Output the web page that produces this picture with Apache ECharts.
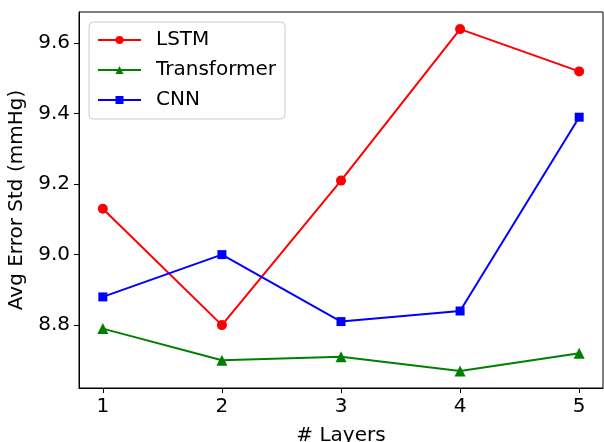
<!DOCTYPE html>
<html>
<head>
<meta charset="utf-8">
<script src="https://cdn.jsdelivr.net/npm/echarts@6/dist/echarts.min.js"></script>
<style>
  html, body { margin: 0; padding: 0; background: #fff; }
  #chart { width: 604px; height: 442px; }
</style>
</head>
<body>
<div id="chart"></div>
<script>
// Number of layers on the x axis
const layers = [1, 2, 3, 4, 5];
// Average error standard deviation (mmHg) per model
const lstm = [9.13, 8.80, 9.21, 9.64, 9.52];
const transformer = [8.79, 8.70, 8.71, 8.67, 8.72];
const cnn = [8.88, 9.00, 8.81, 8.84, 9.39];
// Tick values shown on the y axis
const yTicks = [8.8, 9.0, 9.2, 9.4, 9.6];

const FONT = 'DejaVu Sans';
const FS = 20;

function pairs(ys) {
  return layers.map((x, i) => [x, ys[i]]);
}

const all = lstm.concat(transformer, cnn);
const yLo = Math.min(...all), yHi = Math.max(...all);
const yPad = (yHi - yLo) * 0.05;
const xPad = (layers[layers.length - 1] - layers[0]) * 0.05;

const chart = echarts.init(document.getElementById('chart'), null, { renderer: 'canvas' });

const lineSeries = (name, data, color, symbol, size) => ({
  name: name,
  type: 'line',
  data: pairs(data),
  symbol: symbol,
  symbolSize: size,
  showAllSymbol: true,
  lineStyle: { color: color, width: 2 },
  itemStyle: { color: color },
  emphasis: { disabled: true },
  animation: false
});

chart.setOption({
  animation: false,
  grid: {
    left: 79, right: 1, top: 12, bottom: 54,
    containLabel: false,
    outerBoundsMode: 'none',
    show: true, borderColor: '#000', borderWidth: 1, backgroundColor: '#fff'
  },
  legend: {
    orient: 'vertical',
    left: 89, top: 22,
    padding: [8, 9, 9, 8],
    itemWidth: 43,
    itemHeight: 10,
    itemGap: 10,
    backgroundColor: 'rgba(255,255,255,0.8)',
    borderColor: '#cccccc',
    borderWidth: 1,
    borderRadius: 4,
    textStyle: { fontFamily: FONT, fontSize: FS, color: '#000', padding: [0, 0, 0, 10] },
    data: ['LSTM', 'Transformer', 'CNN']
  },
  xAxis: {
    type: 'value',
    min: layers[0] - xPad,
    max: layers[layers.length - 1] + xPad,
    name: '# Layers',
    nameLocation: 'middle',
    nameGap: 38,
    nameTextStyle: { fontFamily: FONT, fontSize: FS, color: '#000' },
    axisLine: { show: true, lineStyle: { color: '#000', width: 1 } },
    axisTick: { show: true, inside: false, length: 5, customValues: layers, lineStyle: { color: '#000' } },
    axisLabel: {
      customValues: layers, margin: 9,
      fontFamily: FONT, fontSize: FS, color: '#000',
      formatter: v => String(v)
    },
    splitLine: { show: false }
  },
  yAxis: {
    type: 'value',
    min: yLo - yPad,
    max: yHi + yPad,
    name: 'Avg Error Std (mmHg)',
    nameLocation: 'middle',
    nameGap: 47,
    nameRotate: 90,
    nameTextStyle: { fontFamily: FONT, fontSize: FS, color: '#000' },
    axisLine: { show: true, lineStyle: { color: '#000', width: 1 } },
    axisTick: { show: true, inside: false, length: 5, customValues: yTicks, lineStyle: { color: '#000' } },
    axisLabel: {
      customValues: yTicks, margin: 9,
      fontFamily: FONT, fontSize: FS, color: '#000',
      formatter: v => v.toFixed(1)
    },
    splitLine: { show: false }
  },
  series: [
    lineSeries('LSTM', lstm, '#ff0000', 'circle', 10),
    lineSeries('Transformer', transformer, '#008000', 'triangle', 11),
    lineSeries('CNN', cnn, '#0000ff', 'rect', 9)
  ]
});
</script>
</body>
</html>
